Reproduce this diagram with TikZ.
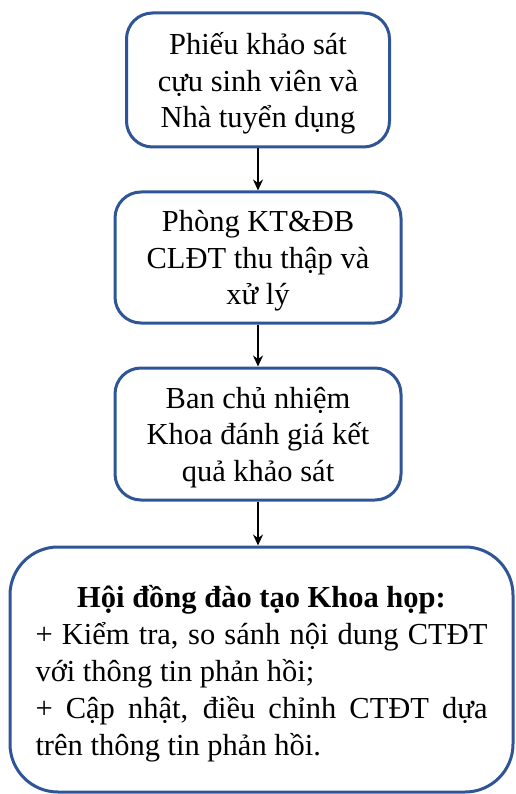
\documentclass[tikz,border=0pt]{standalone}
\usepackage{fontspec}
\setmainfont{Liberation Serif}
\usetikzlibrary{arrows.meta}
\definecolor{boxblue}{HTML}{2F5597}
\tikzset{
  stepbox/.style={draw=boxblue, line width=3pt, rounded corners=26pt, fill=white,
    align=center, inner sep=0pt, text depth=0pt, font=\fontsize{30.5}{36.5}\selectfont},
  bigbox/.style={draw=boxblue, line width=3pt, rounded corners=48pt, fill=white,
    inner sep=0pt, font=\fontsize{30.5}{37}\selectfont},
  flow/.style={line width=1.8pt, -{Stealth[length=11pt,width=10pt]}}
}
\begin{document}
\begin{tikzpicture}
\useasboundingbox (0pt,0pt) rectangle (515pt,-794pt);
\node[stepbox, minimum width=263pt, minimum height=134pt] (b1) at (258pt,-80pt)
  {Phiếu khảo sát\\cựu sinh viên và\\Nhà tuyển dụng};
\node[stepbox, minimum width=286pt, minimum height=131pt] (b2) at (258pt,-257.5pt)
  {Phòng KT\&ĐB\\CLĐT thu thập và\\xử lý};
\node[stepbox, minimum width=286pt, minimum height=132pt] (b3) at (258pt,-434pt)
  {Ban chủ nhiệm\\Khoa đánh giá kết\\quả khảo sát};
\node[bigbox, minimum width=503pt, minimum height=245pt] (b4) at (261.5pt,-669.5pt)
  {\begin{minipage}{452pt}\hyphenpenalty=10000
   \vspace*{8pt}
   {\centering\bfseries Hội đồng đào tạo Khoa họp:\par}
   \noindent + Kiểm tra, so sánh nội dung CTĐT\linebreak với thông tin phản hồi;\par
   \noindent + Cập nhật, điều chỉnh CTĐT dựa\linebreak trên thông tin phản hồi.\par
   \end{minipage}};
\draw[flow] (b1.south) -- (b2.north);
\draw[flow] (b2.south) -- (b3.north);
\draw[flow] (b3.south) -- (b3.south |- b4.north);
\end{tikzpicture}
\end{document}
